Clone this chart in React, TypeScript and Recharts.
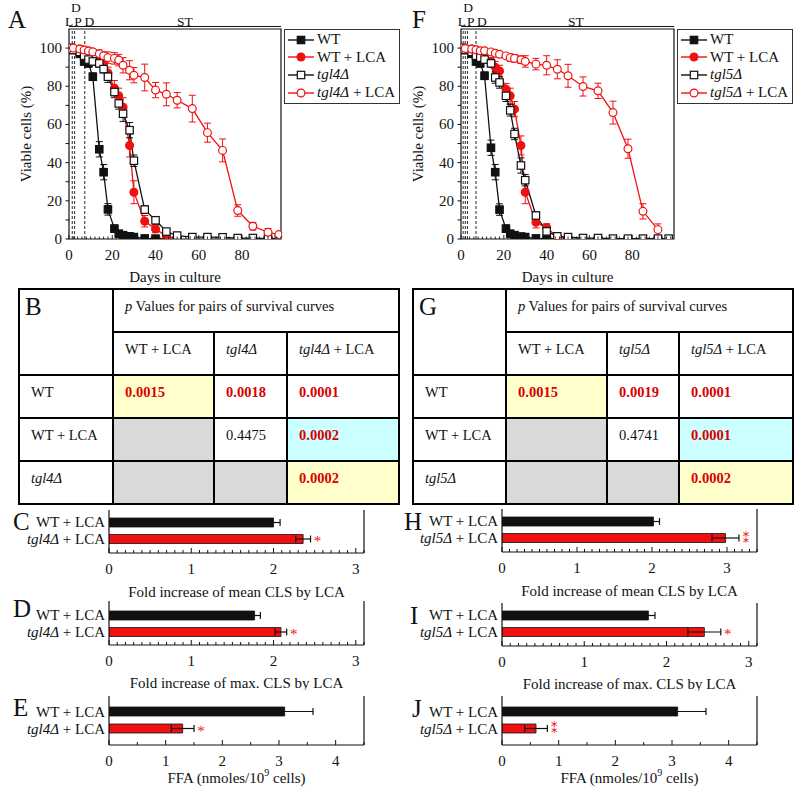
import React from 'react'
import {
  LineChart,
  Line,
  XAxis,
  YAxis,
  ErrorBar,
  ReferenceLine,
  ReferenceArea,
  Legend,
  Label,
  BarChart,
  Bar,
  Cell,
  LabelList,
} from 'recharts'

const SERIF = '"Liberation Serif", "Times New Roman", serif'
const INK = '#111111'
const RED = '#f01010'
const SIG_RED = '#d80000'

// ---- survival curves (A, F) ----
const DAYS = [0, 2, 5, 7, 9, 11, 14, 16, 18, 21, 23, 25, 28, 30, 35, 40, 45, 50, 57, 64, 71, 78, 85, 92, 97]
const VIABLE_TICKS = [0, 10, 20, 30, 40, 50, 60, 70, 80, 90, 100]
const DAY_LABELS = [0, 20, 40, 60, 80]

const A_WT = [100, 99, 97, 93, 92, 85, 47, 35, 15.5, 5.4, 2.8, 2, 1.4, 1, 0.3, 0.2, 0.1, null, null, null, null, null, null, null, null]
const A_WT_ERR = [0, 0, 1, 2, 2, 2, 4, 4, 3, 2, 1, 0, 0, 0, 0, 0, 0, 0, 0, 0, 0, 0, 0, 0, 0]
const A_WT_LCA = [100, 100, 99.5, 99, 98.5, 98, 94, 92, 87, 79, 75, 69, 49, 24.5, 9.3, 5.3, 1.4, 0.3, null, null, null, null, null, null, null]
const A_WT_LCA_ERR = [0, 0, 0, 0, 0, 1, 2, 3, 3, 4, 4, 5, 6, 6, 3, 2, 1, 0, 0, 0, 0, 0, 0, 0, 0]
const A_TGL = [100, 99, 98, 96, 94, 93, 92, 89, 85, 77, 71, 65.6, 57, 41, 15.4, 9.8, 3.9, 1.8, 1, 1, 0.9, 0.5, 0.5, 0.2, 0]
const A_TGL_ERR = [0, 0, 0, 1, 1, 2, 2, 2, 3, 3, 3, 4, 4, 3, 2, 2, 1, 0, 0, 0, 0, 0, 0, 0, 0]
const A_TGL_LCA = [100, 100, 99.5, 99, 98.5, 98, 97, 96, 95, 94.6, 93.7, 91, 88.4, 85.8, 84.6, 78, 75.8, 72.7, 68.3, 55.7, 46.4, 14.9, 6.7, 3.5, 2.3]
const A_TGL_LCA_ERR = [0, 0, 0, 0, 1, 1, 2, 2, 3, 3, 3, 4, 5, 4, 7, 4, 6, 4, 7, 5, 6, 3, 2, 2, 1]

const F_WT = [100, 99, 97, 93, 92, 85.5, 47.8, 35, 15.4, 5.4, 2.8, 2, 1.3, 1, 0.3, 0.2, 0.1, null, null, null, null, null, null, null, null]
const F_WT_ERR = [0, 0, 1, 2, 2, 2, 4, 4, 3, 2, 1, 0, 0, 0, 0, 0, 0, 0, 0, 0, 0, 0, 0, 0, 0]
const F_WT_LCA = [100, 100, 99.5, 99, 98, 97, 93, 90, 88, 78.5, 75, 68, 49, 24.5, 8.8, 6, 1, 0.3, null, null, null, null, null, null, null]
const F_WT_LCA_ERR = [0, 0, 0, 0, 0, 1, 2, 3, 3, 3, 4, 4, 5, 6, 3, 2, 1, 0, 0, 0, 0, 0, 0, 0, 0]
const F_TGL = [100, 99, 98, 96, 95, 94, 92, 84.6, 82, 75, 67.4, 55, 38.5, 30.8, 12.3, 4, 1.4, 1, 0.5, 0.5, 0.2, 0.2, 0.2, 0.2, 0.2]
const F_TGL_ERR = [0, 0, 0, 1, 1, 2, 2, 3, 3, 3, 3, 3, 4, 3, 2, 1, 1, 0, 0, 0, 0, 0, 0, 0, 0]
const F_TGL_LCA = [100, 99.8, 99.5, 99.1, 98.6, 98.6, 98, 97.3, 96.8, 95.9, 95, 94.6, 93.9, 93, 91.6, 91, 88.9, 85.5, 79.9, 77.6, 66.2, 47.3, 14.5, 4.9, null]
const F_TGL_LCA_ERR = [0, 0, 0, 0, 0, 0, 0, 1, 1, 1, 2, 2, 2, 3, 3, 5, 5, 6, 5, 4, 6, 5, 4, 3, 0]

// ---- p value tables (B, G) ----
const P_COLS = ['WT + LCA', 'STRAIN', 'STRAIN + LCA']
const P_ROWS = ['WT', 'WT + LCA', 'STRAIN']
const B_PVALUES = [['0.0015', '0.0018', '0.0001'], [null, '0.4475', '0.0002'], [null, null, '0.0002']]
const G_PVALUES = [['0.0015', '0.0019', '0.0001'], [null, '0.4741', '0.0001'], [null, null, '0.0002']]

// ---- fold increase / FFA bars ----
const CLS_LABELS = [0, 1, 2, 3]
const FFA_LABELS = [0, 1, 2, 3, 4]
const C_VALUES = [2.0, 2.36]
const C_ERRS = [0.08, 0.09]
const C_SIG = ['', '*']
const D_VALUES = [1.77, 2.09]
const D_ERRS = [0.07, 0.07]
const D_SIG = ['', '*']
const E_VALUES = [3.1, 1.3]
const E_ERRS = [0.5, 0.2]
const E_SIG = ['', '*']
const H_VALUES = [2.02, 2.98]
const H_ERRS = [0.08, 0.18]
const H_SIG = ['', '**']
const I_VALUES = [1.78, 2.46]
const I_ERRS = [0.08, 0.2]
const I_SIG = ['', '*']
const J_VALUES = [3.1, 0.6]
const J_ERRS = [0.5, 0.2]
const J_SIG = ['', '**']

const TABLE_FILLS = [
  ['#ffffcc', '#ffffff', '#ffffff'],
  ['#d9d9d9', '#ffffff', '#ccffff'],
  ['#d9d9d9', '#d9d9d9', '#ffffcc'],
]

function Marker({ cx, cy, shape, color, filled }: any) {
  if (cx == null || cy == null) return null
  const fill = filled ? color : '#ffffff'
  if (shape === 'square') {
    return <rect x={cx - 3.7} y={cy - 3.7} width={7.4} height={7.4} fill={fill} stroke={color} strokeWidth={1.2} />
  }
  return <circle cx={cx} cy={cy} r={3.9} fill={fill} stroke={color} strokeWidth={1.2} />
}

function StrainText({ strain, lca }: { strain: string; lca?: boolean }) {
  if (strain === 'WT') return <span>WT{lca ? ' + LCA' : ''}</span>
  return (
    <span>
      <i>{strain}</i>
      {lca ? ' + LCA' : ''}
    </span>
  )
}

function SeriesLegend({ series }: { series: any[] }) {
  return (
    <div
      style={{
        border: '1.5px solid #333',
        background: '#fff',
        padding: '1px 0 2px 2px',
        boxSizing: 'border-box',
        fontFamily: SERIF,
        fontSize: 15,
        color: INK,
      }}
    >
      {series.map((s) => (
        <div key={s.key} style={{ display: 'flex', alignItems: 'center', height: 17.6 }}>
          <svg width={28} height={12} style={{ flex: 'none' }}>
            <line x1={1} x2={27} y1={6} y2={6} stroke={s.color} strokeWidth={1.4} />
            <Marker cx={14} cy={6} shape={s.shape} color={s.color} filled={s.filled} />
          </svg>
          <span style={{ marginLeft: 2, whiteSpace: 'nowrap' }}>
            <StrainText strain={s.strain} lca={s.lca} />
          </span>
        </div>
      ))}
    </div>
  )
}

const dayTick = (p: any) => {
  const v = p.payload.value
  const major = DAY_LABELS.includes(v)
  return (
    <g>
      <line x1={p.x} x2={p.x} y1={p.y} y2={p.y - (major ? 4 : 2.5)} stroke={INK} strokeWidth={0.9} />
      {major && (
        <text x={p.x} y={p.y + 16} textAnchor="middle" dominantBaseline="central" fontSize={15} fontFamily={SERIF} fill={INK}>
          {v}
        </text>
      )}
    </g>
  )
}

const viableTick = (p: any) => {
  const v = p.payload.value
  const major = v % 20 === 0
  return (
    <g>
      <line x1={p.x} x2={p.x - 3.5} y1={p.y} y2={p.y} stroke={INK} strokeWidth={1} />
      {major && (
        <text x={p.x - 7} y={p.y} textAnchor="end" dominantBaseline="central" fontSize={15} fontFamily={SERIF} fill={INK}>
          {v}
        </text>
      )}
    </g>
  )
}

function survivalPoints(values: (number | null)[], errs: number[]) {
  return DAYS.map((day, i) => ({ day, v: values[i], e: errs[i] || undefined })).filter((p) => p.v !== null)
}

function SurvivalChart({ strain, sets, xMax, yAxisW, rightMargin, phaseLines, phaseLabels, legendLeft }: any) {
  const series = [
    { key: 'wt', strain: 'WT', lca: false, color: INK, shape: 'square', filled: true, values: sets[0], errs: sets[1] },
    { key: 'wtl', strain: 'WT', lca: true, color: RED, shape: 'circle', filled: true, values: sets[2], errs: sets[3] },
    { key: 'tg', strain, lca: false, color: INK, shape: 'square', filled: false, values: sets[4], errs: sets[5] },
    { key: 'tgl', strain, lca: true, color: RED, shape: 'circle', filled: false, values: sets[6], errs: sets[7] },
  ]
  const dayTicks: number[] = []
  for (let d = 0; d <= xMax; d += 2) dayTicks.push(d)

  return (
    <LineChart width={400} height={290} margin={{ top: 29, right: rightMargin, left: 0, bottom: 0 }}>
      <XAxis
        type="number"
        dataKey="day"
        domain={[0, xMax]}
        ticks={dayTicks}
        interval={0}
        tickSize={0}
        tickMargin={0}
        tick={dayTick}
        axisLine={false}
        height={51}
        allowDataOverflow
      >
        <Label
          content={(p: any) => (
            <text
              x={p.viewBox.x + p.viewBox.width / 2}
              y={p.viewBox.y + 38}
              textAnchor="middle"
              dominantBaseline="central"
              fontSize={15}
              fontFamily={SERIF}
              fill={INK}
            >
              Days in culture
            </text>
          )}
        />
      </XAxis>
      <YAxis
        type="number"
        domain={[0, 110]}
        ticks={VIABLE_TICKS}
        interval={0}
        tickSize={0}
        tickMargin={0}
        tick={viableTick}
        axisLine={false}
        width={yAxisW}
        allowDataOverflow
      >
        <Label
          content={(p: any) => {
            const x = p.viewBox.x + p.viewBox.width - 43
            const y = p.viewBox.y + p.viewBox.height / 2
            return (
              <text
                x={x}
                y={y}
                transform={`rotate(-90 ${x} ${y})`}
                textAnchor="middle"
                dominantBaseline="central"
                fontSize={15}
                fontFamily={SERIF}
                fill={INK}
              >
                Viable cells (%)
              </text>
            )
          }}
        />
      </YAxis>
      <ReferenceArea x1={0} x2={xMax} y1={0} y2={110} fill="none" stroke={INK} strokeWidth={1.2} />
      <ReferenceLine y={111.3} stroke={INK} strokeWidth={1.2} ifOverflow="visible" />
      {phaseLines.map((x: number) => (
        <ReferenceLine key={`pl-${x}`} x={x} stroke={INK} strokeDasharray="3 2" strokeWidth={0.9} />
      ))}
      {phaseLabels.map((l: any) => (
        <ReferenceLine
          key={`lab-${l.text}-${l.x}`}
          x={l.x}
          stroke="none"
          label={{ value: l.text, position: 'top', offset: l.offset, fill: INK, fontSize: 13.5, fontFamily: SERIF }}
        />
      ))}
      {series.map((s) => (
        <Line
          key={s.key}
          data={survivalPoints(s.values, s.errs)}
          dataKey="v"
          stroke={s.color}
          strokeWidth={1.3}
          isAnimationActive={false}
          activeDot={false}
          legendType="none"
          dot={(p: any) => (
            <Marker key={`${s.key}-${p.index}`} cx={p.cx} cy={p.cy} shape={s.shape} color={s.color} filled={s.filled} />
          )}
        >
          <ErrorBar dataKey="e" direction="y" width={3.5} stroke={s.color} strokeWidth={1} />
        </Line>
      ))}
      <Legend
        layout="vertical"
        align="center"
        verticalAlign="middle"
        wrapperStyle={{ left: legendLeft, top: 29, width: 116 }}
        content={() => <SeriesLegend series={series} />}
      />
    </LineChart>
  )
}

function PTable({ letter, strain, pvalues, left, colWidths }: any) {
  const cell: React.CSSProperties = {
    border: '2px solid #000',
    padding: '8px 0 0 11px',
    verticalAlign: 'top',
    height: 43,
    boxSizing: 'border-box',
    whiteSpace: 'nowrap',
  }
  const colLabel = (c: string) =>
    c === 'WT + LCA' ? <StrainText strain="WT" lca /> : <StrainText strain={strain} lca={c.endsWith('LCA')} />
  return (
    <table
      style={{
        position: 'absolute',
        left,
        top: 288,
        width: 380,
        borderCollapse: 'collapse',
        tableLayout: 'fixed',
        fontFamily: SERIF,
        fontSize: 14.5,
        color: INK,
        background: '#fff',
      }}
    >
      <colgroup>
        {colWidths.map((w: number, i: number) => (
          <col key={i} style={{ width: w }} />
        ))}
      </colgroup>
      <tbody>
        <tr>
          <td rowSpan={2} style={{ ...cell, padding: '3px 0 0 5px', fontSize: 25 }}>
            {letter}
          </td>
          <td colSpan={3} style={cell}>
            <i>p</i> Values for pairs of survival curves
          </td>
        </tr>
        <tr>
          {P_COLS.map((c) => (
            <td key={c} style={cell}>
              {colLabel(c)}
            </td>
          ))}
        </tr>
        {P_ROWS.map((r, ri) => (
          <tr key={r}>
            <td style={cell}>{r === 'WT' || r === 'WT + LCA' ? r : <i>{strain}</i>}</td>
            {pvalues[ri].map((v: string | null, ci: number) => {
              const sig = v !== null && parseFloat(v) < 0.05
              return (
                <td
                  key={ci}
                  style={{
                    ...cell,
                    background: TABLE_FILLS[ri][ci],
                    color: sig ? SIG_RED : INK,
                    fontWeight: sig ? 'bold' : 'normal',
                  }}
                >
                  {v}
                </td>
              )
            })}
          </tr>
        ))}
      </tbody>
    </table>
  )
}

const barTick = (labels: number[]) => (p: any) => {
  const v = p.payload.value
  const major = labels.some((l) => Math.abs(l - v) < 1e-6)
  return (
    <g>
      <line x1={p.x} x2={p.x} y1={p.y} y2={p.y - (major ? 5 : 3)} stroke={INK} strokeWidth={1} />
      {major && (
        <text x={p.x} y={p.y + 16} textAnchor="middle" dominantBaseline="central" fontSize={15} fontFamily={SERIF} fill={INK}>
          {v}
        </text>
      )}
    </g>
  )
}

const strainTick = (p: any) => {
  const name = p.payload.value
  return (
    <text x={p.x - 4} y={p.y} textAnchor="end" dominantBaseline="central" fontSize={15} fontFamily={SERIF} fill={INK}>
      {name === 'WT' ? (
        <tspan>WT + LCA</tspan>
      ) : (
        <>
          <tspan fontStyle="italic">{name}</tspan>
          <tspan> + LCA</tspan>
        </>
      )}
    </text>
  )
}

function FoldPanel({ strain, values, errs, sig, xMax, labels, minorStep, title, plotH, axisH, titleDy, yAxisW, rightMargin, pad }: any) {
  const data = ['WT', strain].map((name, i) => ({ name, v: values[i], e: errs[i] }))
  const ticks: number[] = []
  for (let i = 0; i * minorStep <= xMax + 1e-9; i++) ticks.push(Math.round(i * minorStep * 100) / 100)

  const sigLabel = (p: any) => {
    const i = p.index
    if (!sig[i]) return null
    const per = p.width / values[i]
    const x = p.x + p.width + errs[i] * per + 7
    const cy = p.y + p.height / 2
    if (sig[i] === '**') {
      // two asterisks stacked vertically
      return (
        <text x={x} y={cy} textAnchor="middle" dominantBaseline="central" fontSize={13} fontFamily="DejaVu Sans" fill={RED}>
          ⁑
        </text>
      )
    }
    return (
      <text x={x} y={cy + 7} textAnchor="middle" fontSize={15} fontFamily={SERIF} fill={RED}>
        *
      </text>
    )
  }

  return (
    <BarChart
      layout="vertical"
      width={400}
      height={10 + plotH + axisH}
      data={data}
      margin={{ top: 10, right: rightMargin, left: 0, bottom: 0 }}
    >
      <XAxis
        type="number"
        domain={[0, xMax]}
        ticks={ticks}
        interval={0}
        tickSize={0}
        tickMargin={0}
        tick={barTick(labels)}
        axisLine={{ stroke: INK, strokeWidth: 1.2 }}
        height={axisH}
        allowDataOverflow
      >
        <Label
          content={(p: any) => (
            <text
              x={p.viewBox.x + p.viewBox.width / 2}
              y={p.viewBox.y + titleDy}
              textAnchor="middle"
              dominantBaseline="central"
              fontSize={15}
              fontFamily={SERIF}
              fill={INK}
            >
              {title === 'FFA' ? (
                <>
                  <tspan>FFA (nmoles/10</tspan>
                  <tspan fontSize={10} dy={-6}>
                    9
                  </tspan>
                  <tspan dy={6}> cells)</tspan>
                </>
              ) : (
                title
              )}
            </text>
          )}
        />
      </XAxis>
      <XAxis
        xAxisId="top"
        orientation="top"
        type="number"
        domain={[0, xMax]}
        height={0}
        tick={false}
        tickLine={false}
        axisLine={{ stroke: INK, strokeWidth: 1.2 }}
        allowDataOverflow
      />
      <YAxis
        type="category"
        dataKey="name"
        width={yAxisW}
        axisLine={{ stroke: INK, strokeWidth: 1.2 }}
        tickLine={false}
        tickSize={0}
        tickMargin={0}
        tick={strainTick}
        padding={pad}
        interval={0}
      />
      <ReferenceLine x={xMax} stroke={INK} strokeWidth={1.2} />
      <Bar dataKey="v" barSize={9} isAnimationActive={false}>
        {data.map((d, i) => (
          <Cell key={d.name} fill={i === 0 ? INK : RED} stroke={INK} strokeWidth={0.8} />
        ))}
        <ErrorBar dataKey="e" direction="x" width={3.5} stroke={INK} strokeWidth={1.2} />
        <LabelList dataKey="v" content={sigLabel} />
      </Bar>
    </BarChart>
  )
}

function Letter({ ch, left, top }: { ch: string; left: number; top: number }) {
  return (
    <div style={{ position: 'absolute', left, top, fontSize: 25, lineHeight: '24px', fontFamily: SERIF, color: INK }}>{ch}</div>
  )
}

function Place({ left, top, children }: any) {
  return <div style={{ position: 'absolute', left, top }}>{children}</div>
}

export default function App() {
  const leftBars = { yAxisW: 109, rightMargin: 36 }
  const rightBars = { yAxisW: 102, rightMargin: 43 }
  return (
    <div
      style={{
        position: 'absolute',
        left: 0,
        top: 0,
        width: 800,
        height: 795,
        background: '#fff',
        fontFamily: SERIF,
        color: INK,
        overflow: 'hidden',
      }}
    >
      <Place left={0} top={0}>
        <SurvivalChart
          strain="tgl4Δ"
          sets={[A_WT, A_WT_ERR, A_WT_LCA, A_WT_LCA_ERR, A_TGL, A_TGL_ERR, A_TGL_LCA, A_TGL_LCA_ERR]}
          xMax={98}
          yAxisW={69}
          rightMargin={119}
          phaseLines={[1.5, 2.6, 7.3]}
          phaseLabels={[
            { x: 0, text: 'L', offset: 3 },
            { x: 4.2, text: 'P', offset: 3 },
            { x: 9.4, text: 'D', offset: 3 },
            { x: 3.2, text: 'D', offset: 17.5 },
            { x: 53.6, text: 'ST', offset: 3 },
          ]}
          legendLeft={284}
        />
      </Place>
      <Place left={400} top={0}>
        <SurvivalChart
          strain="tgl5Δ"
          sets={[F_WT, F_WT_ERR, F_WT_LCA, F_WT_LCA_ERR, F_TGL, F_TGL_ERR, F_TGL_LCA, F_TGL_LCA_ERR]}
          xMax={99.5}
          yAxisW={61}
          rightMargin={126}
          phaseLines={[1, 2, 3, 7]}
          phaseLabels={[
            { x: 0.4, text: 'L', offset: 3 },
            { x: 4.6, text: 'P', offset: 3 },
            { x: 9.8, text: 'D', offset: 3 },
            { x: 3.3, text: 'D', offset: 17.5 },
            { x: 53.7, text: 'ST', offset: 3 },
          ]}
          legendLeft={277}
        />
      </Place>
      <Letter ch="A" left={8} top={8} />
      <Letter ch="F" left={412} top={8} />

      <PTable letter="B" strain="tgl4Δ" pvalues={B_PVALUES} left={18} colWidths={[94, 101, 73, 112]} />
      <PTable letter="G" strain="tgl5Δ" pvalues={G_PVALUES} left={412} colWidths={[93, 101, 72, 114]} />

      <Place left={0} top={500}>
        <FoldPanel strain="tgl4Δ" values={C_VALUES} errs={C_ERRS} sig={C_SIG} xMax={3.1} labels={CLS_LABELS} minorStep={0.1}
          title="Fold increase of mean CLS by LCA" plotH={43} axisH={47} titleDy={39} pad={{ top: 4, bottom: 6 }} {...leftBars} />
      </Place>
      <Place left={0} top={591}>
        <FoldPanel strain="tgl4Δ" values={D_VALUES} errs={D_ERRS} sig={D_SIG} xMax={3.1} labels={CLS_LABELS} minorStep={0.1}
          title="Fold increase of max. CLS by LCA" plotH={44} axisH={45} titleDy={38} pad={{ top: 6, bottom: 5 }} {...leftBars} />
      </Place>
      <Place left={0} top={686}>
        <FoldPanel strain="tgl4Δ" values={E_VALUES} errs={E_ERRS} sig={E_SIG} xMax={4.5} labels={FFA_LABELS} minorStep={0.5}
          title="FFA" plotH={49} axisH={44} titleDy={33} pad={{ top: 7, bottom: 8 }} {...leftBars} />
      </Place>
      <Place left={400} top={499}>
        <FoldPanel strain="tgl5Δ" values={H_VALUES} errs={H_ERRS} sig={H_SIG} xMax={3.4} labels={CLS_LABELS} minorStep={0.1}
          title="Fold increase of mean CLS by LCA" plotH={43} axisH={47} titleDy={39} pad={{ top: 4, bottom: 6 }} {...rightBars} />
      </Place>
      <Place left={400} top={593}>
        <FoldPanel strain="tgl5Δ" values={I_VALUES} errs={I_ERRS} sig={I_SIG} xMax={3.1} labels={CLS_LABELS} minorStep={0.1}
          title="Fold increase of max. CLS by LCA" plotH={43} axisH={45} titleDy={38} pad={{ top: 4, bottom: 6 }} {...rightBars} />
      </Place>
      <Place left={400} top={686}>
        <FoldPanel strain="tgl5Δ" values={J_VALUES} errs={J_ERRS} sig={J_SIG} xMax={4.5} labels={FFA_LABELS} minorStep={0.5}
          title="FFA" plotH={49} axisH={44} titleDy={33} pad={{ top: 7, bottom: 8 }} {...rightBars} />
      </Place>
      <Letter ch="C" left={13} top={510} />
      <Letter ch="D" left={13} top={597} />
      <Letter ch="E" left={13} top={696} />
      <Letter ch="H" left={404} top={510} />
      <Letter ch="I" left={410} top={604} />
      <Letter ch="J" left={412} top={697} />
    </div>
  )
}
